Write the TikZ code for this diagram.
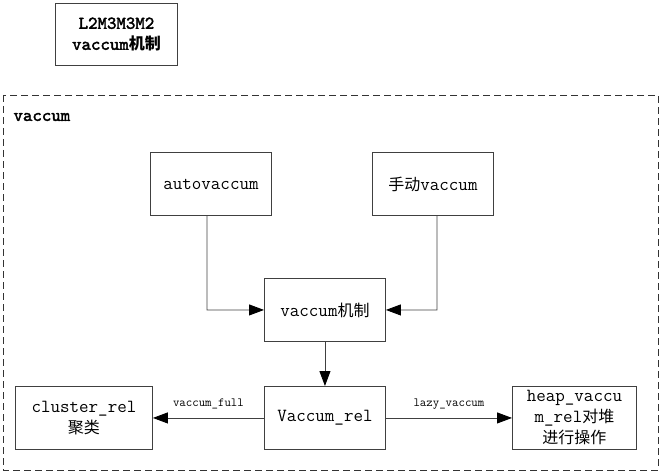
\documentclass[tikz,border=0pt]{standalone}
\usepackage{fontspec}
\newfontfamily\cjk{Noto Sans CJK SC}
\newfontfamily\titlefont[FakeBold=2.2]{lmmono10-regular.otf}
\usetikzlibrary{arrows.meta}
\tikzset{
  box/.style={draw=black!75, line width=0.9pt, minimum width=121pt, minimum height=63pt, inner sep=2pt, align=center, font=\ttfamily\fontsize{18.5}{21}\selectfont, anchor=north west},
  conn/.style={draw=black!75, line width=0.9pt, -{Triangle[length=15pt,width=11pt,color=black]}},
  lbl/.style={font=\ttfamily\fontsize{12.5}{14}\selectfont}
}
\begin{document}
\begin{tikzpicture}[x=1pt,y=-1pt]
\useasboundingbox (0,0) rectangle (660,473);
\node[box, minimum width=122pt, minimum height=62pt, font=\titlefont\fontsize{18}{21}\selectfont] (title) at (55,3) {L2M3M3M2\\vaccum{\cjk\bfseries\fontsize{16}{20}\selectfont 机制}};
\draw[black!80, line width=0.9pt, dash pattern=on 7pt off 4pt] (3,95) rectangle (658,470);
\node[font=\titlefont\fontsize{18}{21}\selectfont, anchor=west] (grp) at (10,117) {vaccum};
\node[box] (auto) at (150,152) {autovaccum};
\node[box] (manual) at (372,152) {{\cjk\fontsize{16}{20}\selectfont 手动}vaccum};
\node[box] (mech) at (264,278) {vaccum{\cjk\fontsize{16}{20}\selectfont 机制}};
\node[box] (rel) at (264,386) {Vaccum\_rel};
\node[box, minimum width=137pt] (cluster) at (15,386) {cluster\_rel\\{\cjk\fontsize{16}{20}\selectfont 聚类}};
\node[box, minimum width=124pt, inner sep=0pt] (heap) at (512,386) {heap\_vaccu\\m\_rel{\cjk\fontsize{16}{20}\selectfont 对堆}\\{\cjk\fontsize{16}{20}\selectfont 进行操作}};
\coordinate (c1) at (207,310);
\coordinate (c2) at (437,310);
\draw[conn] (auto.south -| c1) -- (c1) -- (mech.west);
\draw[conn] (manual.south -| c2) -- (c2) -- (mech.east);
\draw[conn] (mech.south) -- (rel.north);
\draw[conn] (rel.west) -- node[lbl, above=5pt] (lf) {vaccum\_full} (cluster.east);
\draw[conn] (rel.east) -- node[lbl, above=5pt] (ll) {lazy\_vaccum} (heap.west);
\end{tikzpicture}
\end{document}
